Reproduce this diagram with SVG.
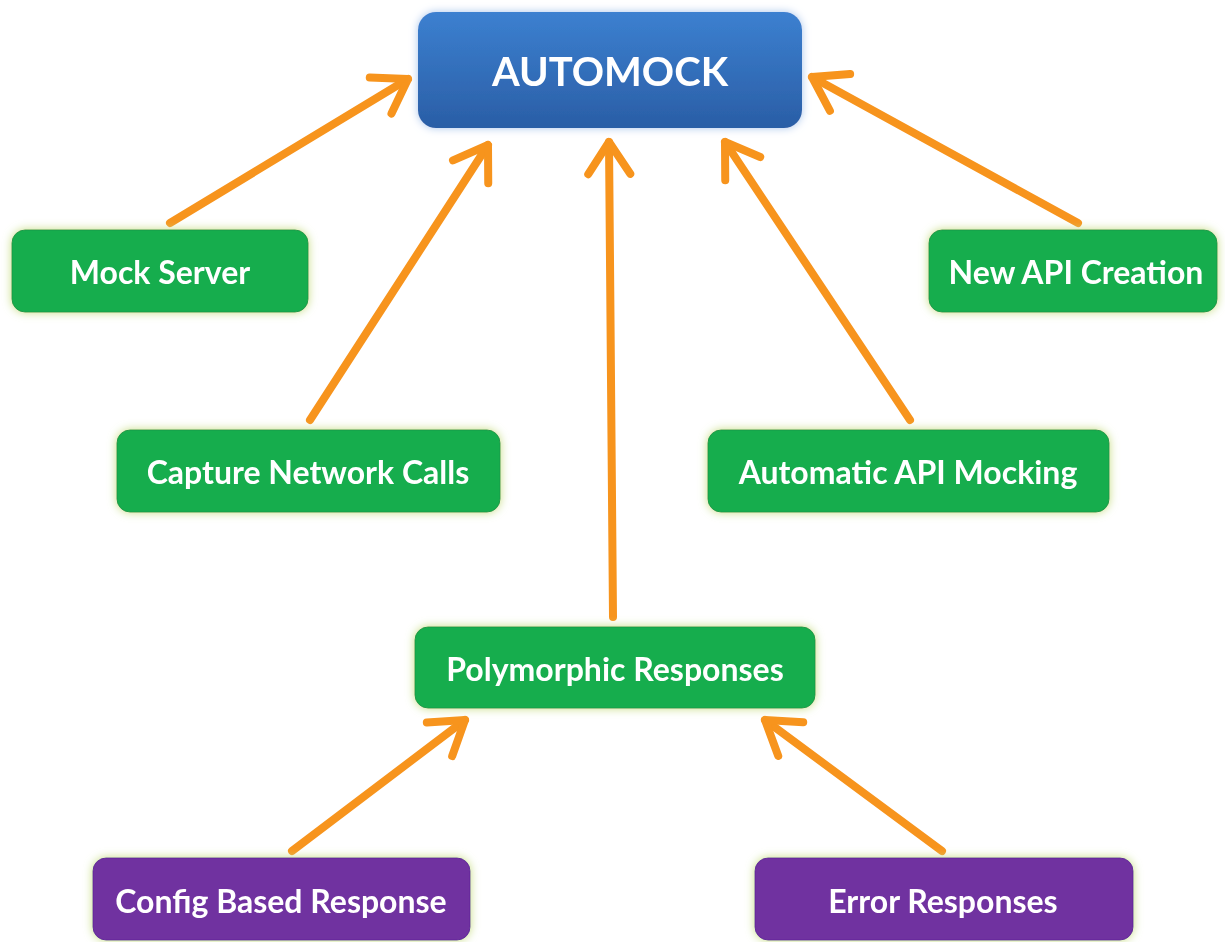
<svg xmlns="http://www.w3.org/2000/svg" width="1225" height="942" viewBox="0 0 1225 942">
<style>
.lbl{font-family:Lato,"Open Sans","Liberation Sans",sans-serif;font-weight:bold;fill:#ffffff;text-anchor:middle;dominant-baseline:central}
.s{font-size:32px}
.g{fill:#12ad4d;stroke:#1a9a4a;stroke-width:1}
.p{fill:#7030a0;stroke:#63289a;stroke-width:1}
.conn{stroke:#f7941d;stroke-width:8;fill:none;stroke-linecap:round;marker-end:url(#ah)}
</style>
<defs>
<marker id="ah" markerUnits="userSpaceOnUse" viewBox="-38 -26 44 52" refX="0" refY="0" markerWidth="44" markerHeight="52" orient="auto">
<path d="M-32,-21 L0,0 L-32,21" fill="none" stroke="#f7941d" stroke-width="8" stroke-linecap="round" stroke-linejoin="round"/>
</marker>
<linearGradient id="blue" x1="0" y1="0" x2="0" y2="1">
<stop offset="0" stop-color="#3c80d0"/>
<stop offset="1" stop-color="#2a5ea6"/>
</linearGradient>
<filter id="glowB" x="-10%" y="-20%" width="120%" height="140%">
<feGaussianBlur in="SourceAlpha" stdDeviation="4" result="b"/>
<feFlood flood-color="#a8c4ec"/>
<feComposite operator="in" in2="b"/>
<feMerge><feMergeNode/><feMergeNode in="SourceGraphic"/></feMerge>
</filter>
<filter id="glowY" x="-10%" y="-20%" width="120%" height="140%">
<feGaussianBlur in="SourceAlpha" stdDeviation="5" result="b"/>
<feFlood flood-color="#c6dc80"/>
<feComposite operator="in" in2="b"/>
<feMerge><feMergeNode/><feMergeNode in="SourceGraphic"/></feMerge>
</filter>
</defs>
<rect width="1225" height="942" fill="#ffffff"/>
<g id="connectors">
<line class="conn" x1="170" y1="223" x2="408" y2="79"/>
<line class="conn" x1="310" y1="420" x2="488" y2="145"/>
<line class="conn" x1="613" y1="617" x2="609" y2="142"/>
<line class="conn" x1="910" y1="420" x2="725" y2="142"/>
<line class="conn" x1="1078" y1="223" x2="812" y2="77"/>
<line class="conn" x1="292" y1="851" x2="465" y2="720"/>
<line class="conn" x1="942" y1="851" x2="765" y2="720"/>
</g>
<g id="automock" filter="url(#glowB)">
<rect x="418" y="12" width="384" height="116" rx="18" fill="url(#blue)"/>
<text class="lbl" x="610" y="71" font-size="40">AUTOMOCK</text>
</g>
<g id="mock-server" filter="url(#glowY)">
<rect class="g" x="12" y="230" width="296" height="82" rx="13"/>
<text class="lbl s" x="160" y="271">Mock Server</text>
</g>
<g id="new-api-creation" filter="url(#glowY)">
<rect class="g" x="929" y="230" width="288" height="82" rx="13"/>
<text class="lbl s" x="1076" y="271">New API Creation</text>
</g>
<g id="capture-network-calls" filter="url(#glowY)">
<rect class="g" x="117" y="430" width="383" height="82" rx="13"/>
<text class="lbl s" x="308" y="471">Capture Network Calls</text>
</g>
<g id="automatic-api-mocking" filter="url(#glowY)">
<rect class="g" x="708" y="430" width="401" height="82" rx="13"/>
<text class="lbl s" x="908" y="471">Automatic API Mocking</text>
</g>
<g id="polymorphic-responses" filter="url(#glowY)">
<rect class="g" x="415" y="627" width="400" height="81" rx="13"/>
<text class="lbl s" x="615" y="668">Polymorphic Responses</text>
</g>
<g id="config-based-response" filter="url(#glowY)">
<rect class="p" x="93" y="858" width="377" height="82" rx="13"/>
<text class="lbl s" x="281" y="900">Config Based Response</text>
</g>
<g id="error-responses" filter="url(#glowY)">
<rect class="p" x="755" y="858" width="378" height="82" rx="13"/>
<text class="lbl s" x="943" y="900">Error Responses</text>
</g>
</svg>
